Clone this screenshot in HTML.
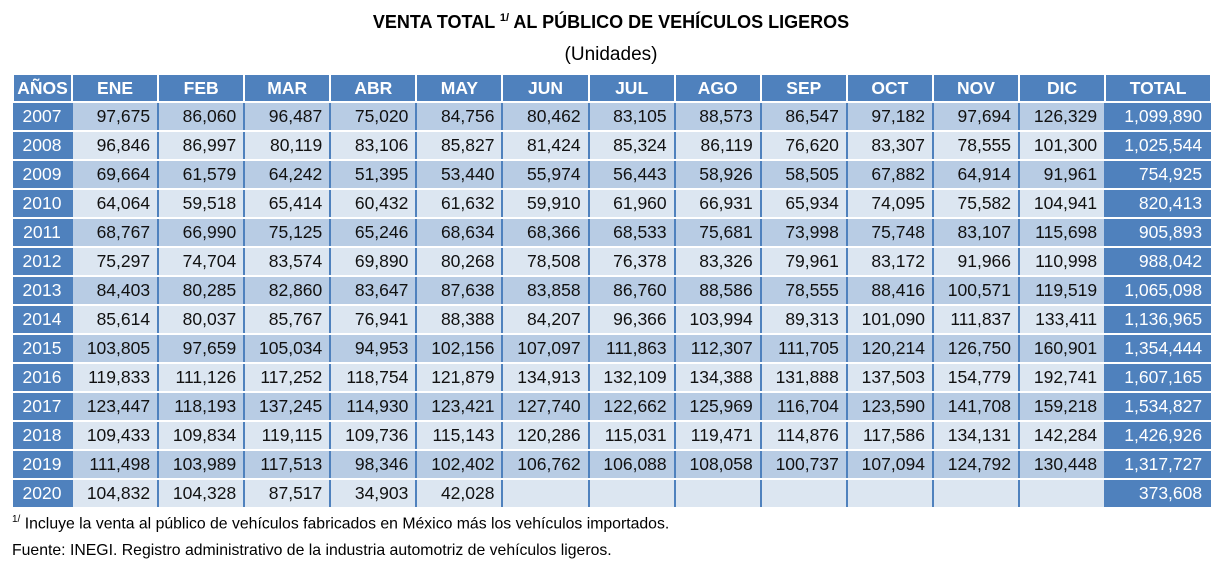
<!DOCTYPE html>
<html><head><meta charset="utf-8"><style>
body{margin:0;width:1222px;height:565px;background:#fff;font-family:"Liberation Sans",sans-serif;position:relative;overflow:hidden}
.t{position:absolute;left:0;width:1222px;text-align:center;color:#000}
table{position:absolute;left:12px;top:75px;border-collapse:collapse;table-layout:fixed;width:1198px}
td,th{padding:0 7px 0 0;height:27px;font-size:17.5px;text-align:right;border:2px solid #4F81BD;border-top:2px solid #fff;border-bottom:2px solid #fff;white-space:nowrap;overflow:hidden;color:#111}
th{background:#4F81BD;color:#fff;font-weight:bold;text-align:center;padding:0;height:26px;border-top:none;border-left:2px solid #fff;border-right:2px solid #fff}
td.y{background:#4F81BD;color:#fff;text-align:center;padding:0;border-left:none}
td.tot{background:#4F81BD;color:#fff;border-right:none;padding-right:9px}
tr.o td{background:#B8CCE4}
tr.e td{background:#DCE6F1}
tr.o td.y,tr.e td.y,tr.o td.tot,tr.e td.tot{background:#4F81BD}
.f{position:absolute;left:12px;font-size:15.8px;color:#000}
</style></head><body>
<div class="t" style="top:12px;font-size:18px;font-weight:bold">VENTA TOTAL <sup style="font-size:11px">1/</sup> AL PÚBLICO DE VEHÍCULOS LIGEROS</div>
<div class="t" style="top:44px;font-size:19px">(Unidades)</div>
<table>
<colgroup><col style="width:59px"><col span="12" style="width:86.1px"><col style="width:106px"></colgroup>
<tr><th>AÑOS</th><th>ENE</th><th>FEB</th><th>MAR</th><th>ABR</th><th>MAY</th><th>JUN</th><th>JUL</th><th>AGO</th><th>SEP</th><th>OCT</th><th>NOV</th><th>DIC</th><th>TOTAL</th></tr>
<tr class="o"><td class="y">2007</td><td>97,675</td><td>86,060</td><td>96,487</td><td>75,020</td><td>84,756</td><td>80,462</td><td>83,105</td><td>88,573</td><td>86,547</td><td>97,182</td><td>97,694</td><td>126,329</td><td class="tot">1,099,890</td></tr>
<tr class="e"><td class="y">2008</td><td>96,846</td><td>86,997</td><td>80,119</td><td>83,106</td><td>85,827</td><td>81,424</td><td>85,324</td><td>86,119</td><td>76,620</td><td>83,307</td><td>78,555</td><td>101,300</td><td class="tot">1,025,544</td></tr>
<tr class="o"><td class="y">2009</td><td>69,664</td><td>61,579</td><td>64,242</td><td>51,395</td><td>53,440</td><td>55,974</td><td>56,443</td><td>58,926</td><td>58,505</td><td>67,882</td><td>64,914</td><td>91,961</td><td class="tot">754,925</td></tr>
<tr class="e"><td class="y">2010</td><td>64,064</td><td>59,518</td><td>65,414</td><td>60,432</td><td>61,632</td><td>59,910</td><td>61,960</td><td>66,931</td><td>65,934</td><td>74,095</td><td>75,582</td><td>104,941</td><td class="tot">820,413</td></tr>
<tr class="o"><td class="y">2011</td><td>68,767</td><td>66,990</td><td>75,125</td><td>65,246</td><td>68,634</td><td>68,366</td><td>68,533</td><td>75,681</td><td>73,998</td><td>75,748</td><td>83,107</td><td>115,698</td><td class="tot">905,893</td></tr>
<tr class="e"><td class="y">2012</td><td>75,297</td><td>74,704</td><td>83,574</td><td>69,890</td><td>80,268</td><td>78,508</td><td>76,378</td><td>83,326</td><td>79,961</td><td>83,172</td><td>91,966</td><td>110,998</td><td class="tot">988,042</td></tr>
<tr class="o"><td class="y">2013</td><td>84,403</td><td>80,285</td><td>82,860</td><td>83,647</td><td>87,638</td><td>83,858</td><td>86,760</td><td>88,586</td><td>78,555</td><td>88,416</td><td>100,571</td><td>119,519</td><td class="tot">1,065,098</td></tr>
<tr class="e"><td class="y">2014</td><td>85,614</td><td>80,037</td><td>85,767</td><td>76,941</td><td>88,388</td><td>84,207</td><td>96,366</td><td>103,994</td><td>89,313</td><td>101,090</td><td>111,837</td><td>133,411</td><td class="tot">1,136,965</td></tr>
<tr class="o"><td class="y">2015</td><td>103,805</td><td>97,659</td><td>105,034</td><td>94,953</td><td>102,156</td><td>107,097</td><td>111,863</td><td>112,307</td><td>111,705</td><td>120,214</td><td>126,750</td><td>160,901</td><td class="tot">1,354,444</td></tr>
<tr class="e"><td class="y">2016</td><td>119,833</td><td>111,126</td><td>117,252</td><td>118,754</td><td>121,879</td><td>134,913</td><td>132,109</td><td>134,388</td><td>131,888</td><td>137,503</td><td>154,779</td><td>192,741</td><td class="tot">1,607,165</td></tr>
<tr class="o"><td class="y">2017</td><td>123,447</td><td>118,193</td><td>137,245</td><td>114,930</td><td>123,421</td><td>127,740</td><td>122,662</td><td>125,969</td><td>116,704</td><td>123,590</td><td>141,708</td><td>159,218</td><td class="tot">1,534,827</td></tr>
<tr class="e"><td class="y">2018</td><td>109,433</td><td>109,834</td><td>119,115</td><td>109,736</td><td>115,143</td><td>120,286</td><td>115,031</td><td>119,471</td><td>114,876</td><td>117,586</td><td>134,131</td><td>142,284</td><td class="tot">1,426,926</td></tr>
<tr class="o"><td class="y">2019</td><td>111,498</td><td>103,989</td><td>117,513</td><td>98,346</td><td>102,402</td><td>106,762</td><td>106,088</td><td>108,058</td><td>100,737</td><td>107,094</td><td>124,792</td><td>130,448</td><td class="tot">1,317,727</td></tr>
<tr class="e"><td class="y">2020</td><td>104,832</td><td>104,328</td><td>87,517</td><td>34,903</td><td>42,028</td><td></td><td></td><td></td><td></td><td></td><td></td><td></td><td class="tot">373,608</td></tr>
</table>
<div class="f" style="top:514px"><sup style="font-size:10px">1/</sup> Incluye la venta al público de vehículos fabricados en México más los vehículos importados.</div>
<div class="f" style="top:542px">Fuente: INEGI. Registro administrativo de la industria automotriz de vehículos ligeros.</div>
</body></html>
